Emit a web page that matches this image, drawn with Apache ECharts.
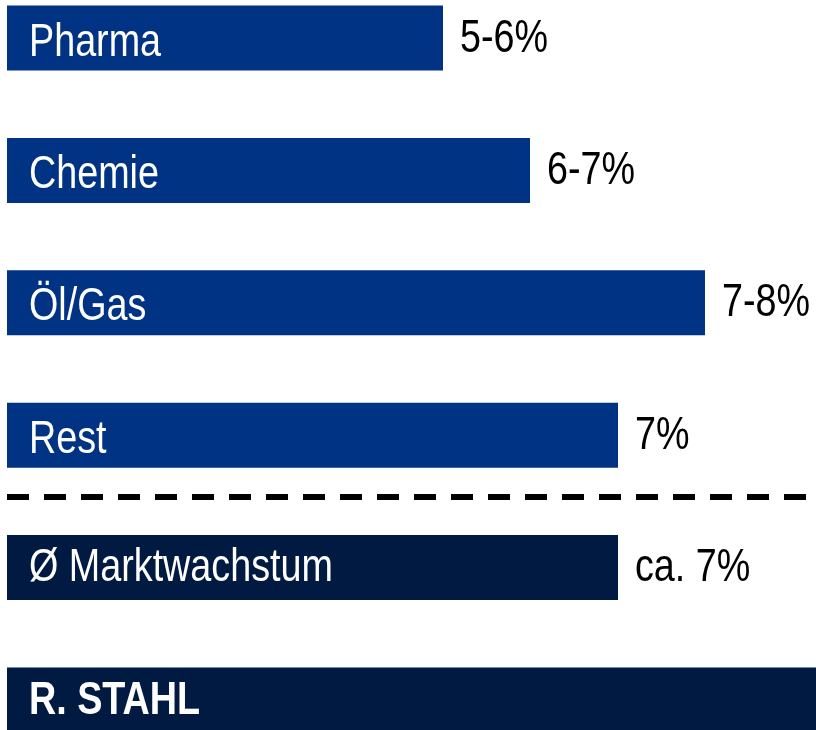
<!DOCTYPE html>
<html>
<head>
<meta charset="utf-8">
<script src="https://cdn.jsdelivr.net/npm/echarts@6/dist/echarts.min.js"></script>
<style>
  html, body { margin: 0; padding: 0; background: #fff; }
  #chart { width: 816px; height: 730px; }
</style>
</head>
<body>
<div id="chart"></div>
<script>
// rows top to bottom
const categories = ['Pharma', 'Chemie', 'Öl/Gas', 'Rest', 'Ø Marktwachstum', 'R. STAHL']
// bar lengths (axis max = full width)
const barLengths = [436, 523, 698, 611, 611, 809]
const valueLabels = ['5-6%', '6-7%', '7-8%', '7%', 'ca. 7%', '']
const axisMax = 809

const FONT = "'Liberation Sans', Arial, sans-serif"
const BLUE = '#003383'
const NAVY = '#001a41'
const NARROW = 0.82 // the original uses a narrow face

const chart = echarts.init(document.getElementById('chart'))

function renderLabels(params, api) {
  const i = api.value(1)
  const end = api.coord([api.value(0), i])
  const start = api.coord([0, i])
  const bold = i === 5
  const nameDy = i < 4 ? 5 : 1
  return {
    type: 'group',
    children: [
      {
        type: 'text',
        x: start[0] + 22,
        y: start[1] + nameDy,
        scaleX: NARROW,
        style: {
          text: categories[i],
          fill: '#fff',
          font: (bold ? 'bold ' : '') + '46px ' + FONT,
          verticalAlign: 'middle',
          align: 'left'
        }
      },
      {
        type: 'text',
        x: end[0] + 17,
        y: end[1] + 1,
        scaleX: NARROW,
        style: {
          text: valueLabels[i],
          fill: '#000',
          font: '46px ' + FONT,
          verticalAlign: 'middle',
          align: 'left'
        }
      }
    ]
  }
}

chart.setOption({
  animation: false,
  grid: {
    left: 7,
    right: 0,
    top: -28.2,
    height: 794.4,
    outerBoundsMode: 'none',
    containLabel: false
  },
  xAxis: {
    type: 'value',
    min: 0,
    max: axisMax,
    show: false
  },
  yAxis: {
    type: 'category',
    data: categories,
    inverse: true,
    show: false
  },
  series: [
    {
      type: 'bar',
      data: barLengths,
      barWidth: 65,
      itemStyle: {
        color: p => (p.dataIndex >= 4 ? NAVY : BLUE)
      },
      emphasis: { disabled: true }
    },
    {
      type: 'custom',
      data: barLengths.map((v, i) => [v, i]),
      encode: { x: 0, y: 1 },
      renderItem: renderLabels,
      silent: true,
      z: 5
    }
  ],
  graphic: [
    {
      type: 'line',
      shape: { x1: 7, y1: 497, x2: 816, y2: 497 },
      style: { stroke: '#000', lineWidth: 6, lineDash: [22, 15] },
      silent: true
    }
  ]
})
</script>
</body>
</html>
